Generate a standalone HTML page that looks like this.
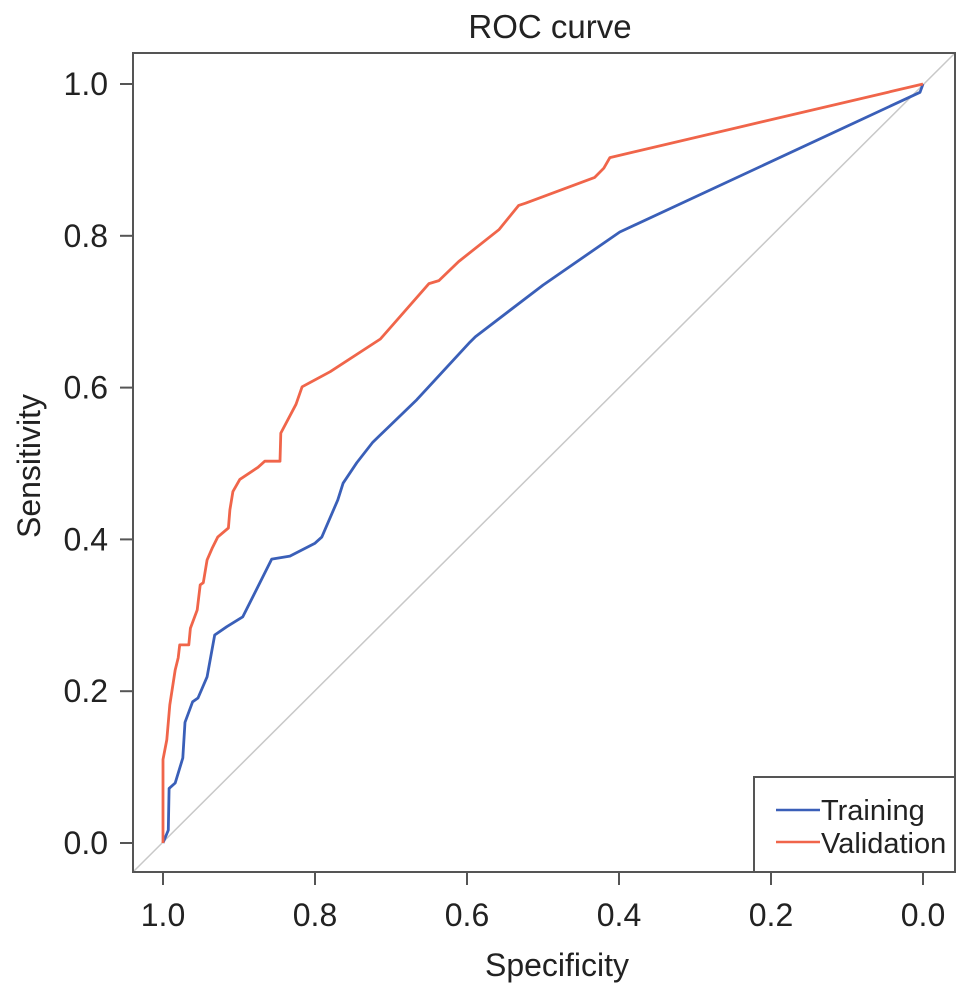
<!DOCTYPE html>
<html><head><meta charset="utf-8"><style>
body{margin:0;background:#fff}
svg text{font-family:"Liberation Sans",Arial,sans-serif;fill:#222}
</style></head><body>
<svg id="chart" width="969" height="994" xmlns="http://www.w3.org/2000/svg">
<text x="550" y="38" font-size="33" text-anchor="middle">ROC curve</text>
<g id="series"></g>
<rect x="133" y="53" width="822" height="819" fill="none" stroke="#555" stroke-width="2"/>
<g id="axes"></g>
<text x="557" y="976" font-size="32" text-anchor="middle">Specificity</text>
<text transform="translate(40,466) rotate(-90)" font-size="32" text-anchor="middle">Sensitivity</text>
<g>
<rect x="754" y="777" width="201" height="95" fill="#fff" stroke="#555" stroke-width="2"/>
<line x1="776" y1="810" x2="820" y2="810" stroke="#3a5fb8" stroke-width="2.5"/>
<text x="821" y="820" font-size="29">Training</text>
<line x1="776" y1="842" x2="820" y2="842" stroke="#f0654a" stroke-width="2.5"/>
<text x="821" y="853" font-size="29">Validation</text>
</g>
</svg>
<script>
const xTicks=[1.0,0.8,0.6,0.4,0.2,0.0];
const yTicks=[0.0,0.2,0.4,0.6,0.8,1.0];
const trainSpec=[1.0,0.993,0.992,0.984,0.974,0.971,0.961,0.954,0.942,0.932,0.916,0.895,0.857,0.833,0.800,0.791,0.770,0.763,0.745,0.724,0.666,0.596,0.589,0.50,0.399,0.004,0];
const trainSens=[0,0.017,0.072,0.079,0.112,0.159,0.186,0.191,0.219,0.274,0.285,0.298,0.374,0.378,0.395,0.403,0.452,0.474,0.501,0.528,0.584,0.660,0.667,0.735,0.805,0.989,1];
const valSpec=[1.0,1.0,0.995,0.991,0.984,0.980,0.978,0.966,0.964,0.955,0.951,0.947,0.942,0.935,0.928,0.914,0.912,0.908,0.899,0.875,0.866,0.846,0.845,0.825,0.817,0.780,0.714,0.650,0.637,0.611,0.558,0.532,0.523,0.432,0.420,0.412,0.0];
const valSens=[0,0.11,0.136,0.182,0.228,0.244,0.261,0.261,0.283,0.307,0.340,0.343,0.373,0.389,0.403,0.415,0.439,0.463,0.479,0.495,0.503,0.503,0.540,0.578,0.601,0.621,0.664,0.737,0.741,0.766,0.808,0.840,0.843,0.877,0.889,0.903,1.0];
const NS="http://www.w3.org/2000/svg";
const xs=v=>163+(1-v)*760;
const ys=v=>843-v*759;
const axes=document.getElementById('axes'),series=document.getElementById('series');
function mk(tag,attrs,parent){const e=document.createElementNS(NS,tag);for(const k in attrs)e.setAttribute(k,attrs[k]);parent.appendChild(e);return e;}
xTicks.forEach(t=>{
 const l=mk('line',{x1:xs(t),x2:xs(t),y1:872,y2:885,stroke:'#555','stroke-width':2},axes);
 
 
 const tx=mk('text',{x:xs(t),y:926,'font-size':32,'text-anchor':'middle'},axes);
 tx.textContent=t.toFixed(1);
 
 
});
yTicks.forEach(t=>{
 const l=mk('line',{x1:120,x2:133,y1:ys(t),y2:ys(t),stroke:'#555','stroke-width':2},axes);
 
 
 const tx=mk('text',{x:108,y:ys(t)+11,'font-size':32,'text-anchor':'end'},axes);
 tx.textContent=t.toFixed(1);
 
 
});
const diag=mk('line',{x1:133,y1:872,x2:955,y2:53,stroke:'#c8c8c8','stroke-width':1.5},series);


function path(sx,sy){return sx.map((s,i)=>(i?'L':'M')+xs(s).toFixed(1)+','+ys(sy[i]).toFixed(1)).join(' ');}
const tp=mk('path',{d:path(trainSpec,trainSens),fill:'none',stroke:'#3a5fb8','stroke-width':2.8,'stroke-linejoin':'round'},series);


const vp=mk('path',{d:path(valSpec,valSens),fill:'none',stroke:'#f0654a','stroke-width':2.8,'stroke-linejoin':'round'},series);


</script>
</body></html>
